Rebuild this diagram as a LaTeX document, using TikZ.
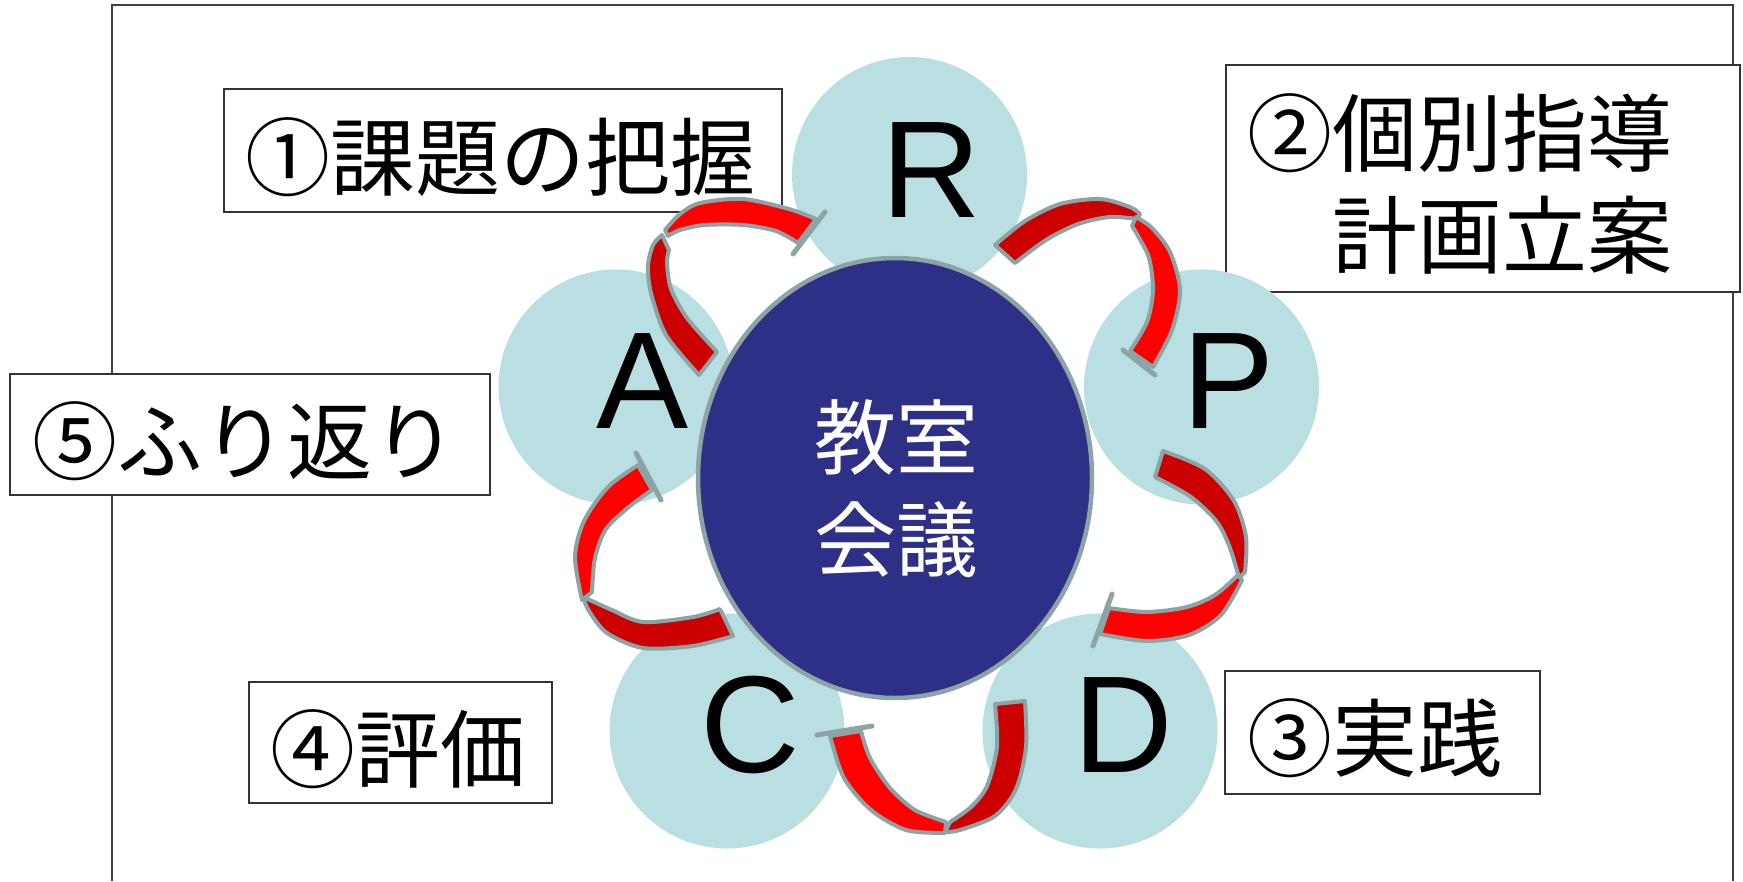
\documentclass[tikz,border=0pt]{standalone}
\usepackage{fontspec}
\setmainfont{Liberation Sans}
\newfontfamily\jpfont{Noto Sans CJK JP}
\definecolor{cbg}{HTML}{B9DFE3}
\definecolor{navy}{HTML}{2E2F87}
\definecolor{rgray}{HTML}{8CA4A6}
\definecolor{bred}{HTML}{FF0000}
\definecolor{dred}{HTML}{CC0000}
\begin{document}
\begin{tikzpicture}[x=1pt,y=-1pt,
  framebox/.style={draw=black!80,line width=2pt,fill=white},
  lbl/.style={inner sep=0pt,anchor=base west,font=\jpfont\fontsize{85}{100}\selectfont},
  bubble/.style={circle,fill=cbg,inner sep=0pt,minimum size=235pt},
  letter/.style={inner sep=0pt,anchor=base,font=\fontsize{138}{140}\selectfont},
  ctext/.style={inner sep=0pt,anchor=base,text=white,font=\jpfont\fontsize{82}{96}\selectfont},
  rib/.style={draw=rgray,line width=4pt,line join=round},
  tick/.style={draw=rgray,line width=5pt,line cap=round}]
\useasboundingbox (0,0) rectangle (1743,881);
\fill[white] (0,0) rectangle (1743,881);
% outer frame
\draw[black!75,line width=2pt] (112,881) -- (112,5) -- (1733,5) -- (1733,881);
% label boxes
\draw[framebox] (224,89) rectangle (782,212);
\draw[framebox] (1226,65) rectangle (1740,292);
\draw[framebox] (1225,671) rectangle (1540,794);
\draw[framebox] (249,682) rectangle (552,803);
\draw[framebox] (10,374) rectangle (490,495);
\node[lbl] (t1) at (245,189) {①課題の把握};
\node[lbl] (t2a) at (1247,165) {②個別指導};
\node[lbl] (t2b) at (1247,267) {　計画立案};
\node[lbl] (t3) at (1247,770) {③実践};
\node[lbl] (t4) at (270,781) {④評価};
\node[lbl] (t5) at (32,473) {⑤ふり返り};
% bubbles
\node[bubble] (cR) at (909.5,174.5) {};
\node[bubble] (cP) at (1201.5,387) {};
\node[bubble] (cD) at (1100,731) {};
\node[bubble] (cC) at (727,731) {};
\node[bubble] (cA) at (616,387) {};
% centre
\draw[fill=navy,draw=rgray,line width=4.5pt] (895,478) ellipse[x radius=197pt,y radius=220pt];
\node[ctext] (m1) at (896,468) {教室};
\node[ctext] (m2) at (896,570) {会議};
% letters
\node[letter] (lR) at (931,217) {R};
\node[letter] (lP) at (1229,428) {P};
\node[letter] (lD) at (1123,772) {D};
\node[letter] (lC) at (750,772) {C};
\node[letter] (lA) at (643,428) {A};
% ribbon A -> R
\filldraw[rib,fill=dred] plot[smooth] coordinates {(699,375) (666,335) (651,293) (648,266) (653,245) (662,235)}
  -- plot[smooth] coordinates {(669,250) (667,263) (671,289) (687,318) (717,352)} -- cycle;
\filldraw[rib,fill=bred] plot[smooth] coordinates {(665,230) (680,214) (700,203) (743,199) (789,209) (816,219)}
  -- plot[smooth] coordinates {(798,243) (776,231) (743,225) (705,225) (680,230) (668,236)} -- cycle;
\draw[tick] (825,212) -- (793,254);
% ribbon R -> P
\filldraw[rib,fill=dred] plot[smooth] coordinates {(995,245) (1025,221) (1060,204) (1100,199) (1130,207) (1140,214)}
  -- plot[smooth] coordinates {(1137,219) (1110,217) (1078,224) (1046,240) (1015,263)} -- cycle;
\filldraw[rib,fill=bred] plot[smooth] coordinates {(1136,217) (1152,228) (1170,252) (1180,290) (1172,330) (1153,367)}
  -- plot[smooth] coordinates {(1130,351) (1147,322) (1153,290) (1149,258) (1138,236) (1132,226)} -- cycle;
\draw[tick] (1123,350) -- (1155,375);
% ribbon P -> D
\filldraw[rib,fill=dred] plot[smooth] coordinates {(1163,451) (1205,469) (1234,501) (1246,537) (1245,572)}
  -- plot[smooth] coordinates {(1239,578) (1230,548) (1217,522) (1191,497) (1155,477)} -- cycle;
\filldraw[rib,fill=bred] plot[smooth] coordinates {(1100,634) (1147,641) (1189,635) (1221,615) (1242,580)}
  -- plot[smooth] coordinates {(1238,575) (1215,595) (1187,607) (1147,612) (1109,608)} -- cycle;
\draw[tick] (1112,594) -- (1093,646);
% ribbon D -> C
\filldraw[rib,fill=dred] plot[smooth] coordinates {(1025,701) (1026,747) (1016,789) (995,816) (960,830) (945,832)}
  -- plot[smooth] coordinates {(950,822) (971,807) (987,786) (997,747) (995,704)} -- cycle;
\filldraw[rib,fill=bred] plot[smooth] coordinates {(830,736) (844,778) (871,810) (906,830) (945,833)}
  -- plot[smooth] coordinates {(946,822) (915,810) (890,788) (870,758) (861,731)} -- cycle;
\draw[tick] (817,735) -- (872,726);
% ribbon C -> A
\filldraw[rib,fill=dred] plot[smooth] coordinates {(733,636) (693,646) (643,648) (607,633) (589,611) (583,597)}
  -- plot[smooth] coordinates {(590,600) (612,610) (643,622) (693,617) (720,609)} -- cycle;
\filldraw[rib,fill=bred] plot[smooth] coordinates {(582,600) (575,557) (584,521) (608,487) (638,465)}
  -- plot[smooth] coordinates {(652,490) (630,506) (606,529) (595,558) (592,592)} -- cycle;
\draw[tick] (636,453) -- (661,500);
\end{tikzpicture}
\end{document}
